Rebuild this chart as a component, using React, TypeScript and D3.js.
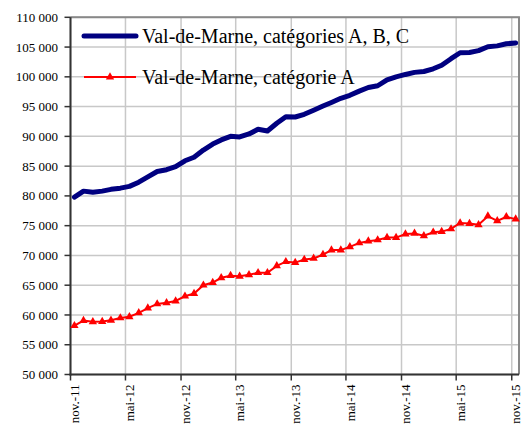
import React, { useEffect, useRef } from 'react';
import * as d3 from 'd3';

// Monthly values, nov. 2011 -> nov. 2015
const seriesABC = [
  79800, 80800, 80600, 80800, 81100, 81300, 81600, 82300, 83200, 84100, 84400, 84900,
  85900, 86500, 87700, 88700, 89400, 90000, 89900, 90400, 91200, 90900, 92200, 93300,
  93250, 93700, 94400, 95100, 95700, 96400, 96900, 97600, 98200, 98500, 99500, 100000,
  100400, 100750, 100900, 101350, 101950, 103050, 104050, 104100, 104400, 105050, 105200, 105550,
  105700,
];
const seriesA = [
  58200, 59050, 58850, 58900, 59100, 59500, 59700, 60350, 61150, 61850, 62050, 62350,
  63150, 63600, 65000, 65450, 66250, 66600, 66500, 66750, 67100, 67100, 68250, 68950,
  68800, 69300, 69500, 70150, 70900, 70900, 71450, 72100, 72400, 72600, 73000, 73000,
  73600, 73700, 73300, 73900, 74000, 74450, 75450, 75350, 75150, 76600, 75800, 76500,
  76100,
];
const tickLabels = ['nov.-11', 'mai-12', 'nov.-12', 'mai-13', 'nov.-13', 'mai-14', 'nov.-14', 'mai-15', 'nov.-15'];
const yTicks = [50000, 55000, 60000, 65000, 70000, 75000, 80000, 85000, 90000, 95000, 100000, 105000, 110000];
const legendLabels = ['Val-de-Marne, catégories A, B, C', 'Val-de-Marne, catégorie A'];

const W = 522;
const H = 429;
const FONT = "'Liberation Serif', 'Times New Roman', Tinos, 'DejaVu Serif', serif";

const App = () => {
  const ref = useRef<SVGSVGElement | null>(null);

  useEffect(() => {
    const svg = d3.select(ref.current);
    svg.selectAll('*').remove();

    const left = 70.5, right = 519, top = 17.3, bottom = 374.5;
    const x = d3.scaleTime()
      .domain([new Date(2011, 10, 1), new Date(2015, 10, 25)])
      .range([left, right]);
    const y = d3.scaleLinear().domain([50000, 110000]).range([bottom, top]);

    const dates = seriesABC.map((_, i) => new Date(2011, 10 + i, 14));
    const tickDates = tickLabels.map((_, k) => new Date(2011, 10 + 6 * k, 1));
    const fmt = d3.formatLocale({ decimal: ',', thousands: ' ', grouping: [3], currency: ['', ' €'] }).format(',d');

    svg.append('rect').attr('width', W).attr('height', H).attr('fill', '#fff');

    // grid
    const grid = svg.append('g').attr('stroke', '#c8c8c8').attr('stroke-width', 1.5);
    grid.selectAll('line.h').data(yTicks).enter().append('line')
      .attr('x1', left).attr('x2', right).attr('y1', d => y(d)).attr('y2', d => y(d));
    grid.selectAll('line.v').data(tickDates).enter().append('line')
      .attr('y1', top).attr('y2', bottom).attr('x1', d => x(d)).attr('x2', d => x(d));

    // frame (top + right)
    svg.append('path')
      .attr('d', `M${left},${top}H${right}V${bottom}`)
      .attr('fill', 'none').attr('stroke', '#888').attr('stroke-width', 2);

    // y axis
    const yAxis = svg.append('g');
    yAxis.append('line').attr('x1', left).attr('x2', left).attr('y1', top).attr('y2', bottom + 1)
      .attr('stroke', '#333').attr('stroke-width', 2);
    yAxis.selectAll('line.t').data(yTicks).enter().append('line')
      .attr('x1', left - 6).attr('x2', left).attr('y1', d => y(d)).attr('y2', d => y(d))
      .attr('stroke', '#333').attr('stroke-width', 1.5);
    yAxis.selectAll('text').data(yTicks).enter().append('text')
      .attr('x', 58).attr('y', d => y(d)).attr('dy', '0.35em')
      .attr('text-anchor', 'end')
      .attr('font-family', FONT)
      .attr('font-size', 13).attr('fill', '#000')
      .text(d => fmt(d));

    // x axis
    const xAxis = svg.append('g');
    xAxis.append('line').attr('x1', left - 1).attr('x2', right).attr('y1', bottom).attr('y2', bottom)
      .attr('stroke', '#333').attr('stroke-width', 2);
    xAxis.selectAll('line.t').data(tickDates).enter().append('line')
      .attr('x1', d => x(d)).attr('x2', d => x(d)).attr('y1', bottom).attr('y2', bottom + 6)
      .attr('stroke', '#333').attr('stroke-width', 1.5);
    xAxis.selectAll('text').data(tickDates).enter().append('text')
      .attr('transform', d => `translate(${x(d) + 4},${bottom + 10}) rotate(-90)`)
      .attr('dy', '0.35em')
      .attr('text-anchor', 'end')
      .attr('font-family', FONT)
      .attr('font-size', 13).attr('fill', '#000')
      .text((_, i) => tickLabels[i]);

    const line = d3.line<number>().x((_, i) => x(dates[i])).y(d => y(d));

    svg.append('path').datum(seriesABC).attr('d', line)
      .attr('fill', 'none').attr('stroke', '#000080').attr('stroke-width', 5)
      .attr('stroke-linejoin', 'round').attr('stroke-linecap', 'round');

    svg.append('path').datum(seriesA).attr('d', line)
      .attr('fill', 'none').attr('stroke', '#ff0000').attr('stroke-width', 2);

    const tri = d3.symbol().type(d3.symbolTriangle).size(30);
    svg.append('g').selectAll('path').data(seriesA).enter().append('path')
      .attr('d', tri)
      .attr('transform', (d, i) => `translate(${x(dates[i])},${y(d)})`)
      .attr('fill', '#ff0000');

    // legend
    const lg = svg.append('g');
    lg.append('line').attr('x1', 84).attr('x2', 136).attr('y1', 36).attr('y2', 36)
      .attr('stroke', '#000080').attr('stroke-width', 5).attr('stroke-linecap', 'round');
    lg.append('line').attr('x1', 84).attr('x2', 136).attr('y1', 77).attr('y2', 77)
      .attr('stroke', '#ff0000').attr('stroke-width', 2);
    lg.append('path').attr('d', tri).attr('transform', 'translate(110,77)').attr('fill', '#ff0000');
    lg.selectAll('text').data(legendLabels).enter().append('text')
      .attr('x', 142).attr('y', (_, i) => 36 + i * 41).attr('dy', '0.35em')
      .attr('font-family', FONT)
      .attr('font-size', 20).attr('fill', '#000')
      .text(d => d);
  }, []);

  return (
    <svg ref={ref} width={W} height={H}
      style={{ position: 'absolute', left: 0, top: 0, display: 'block' }} />
  );
};

export default App;
